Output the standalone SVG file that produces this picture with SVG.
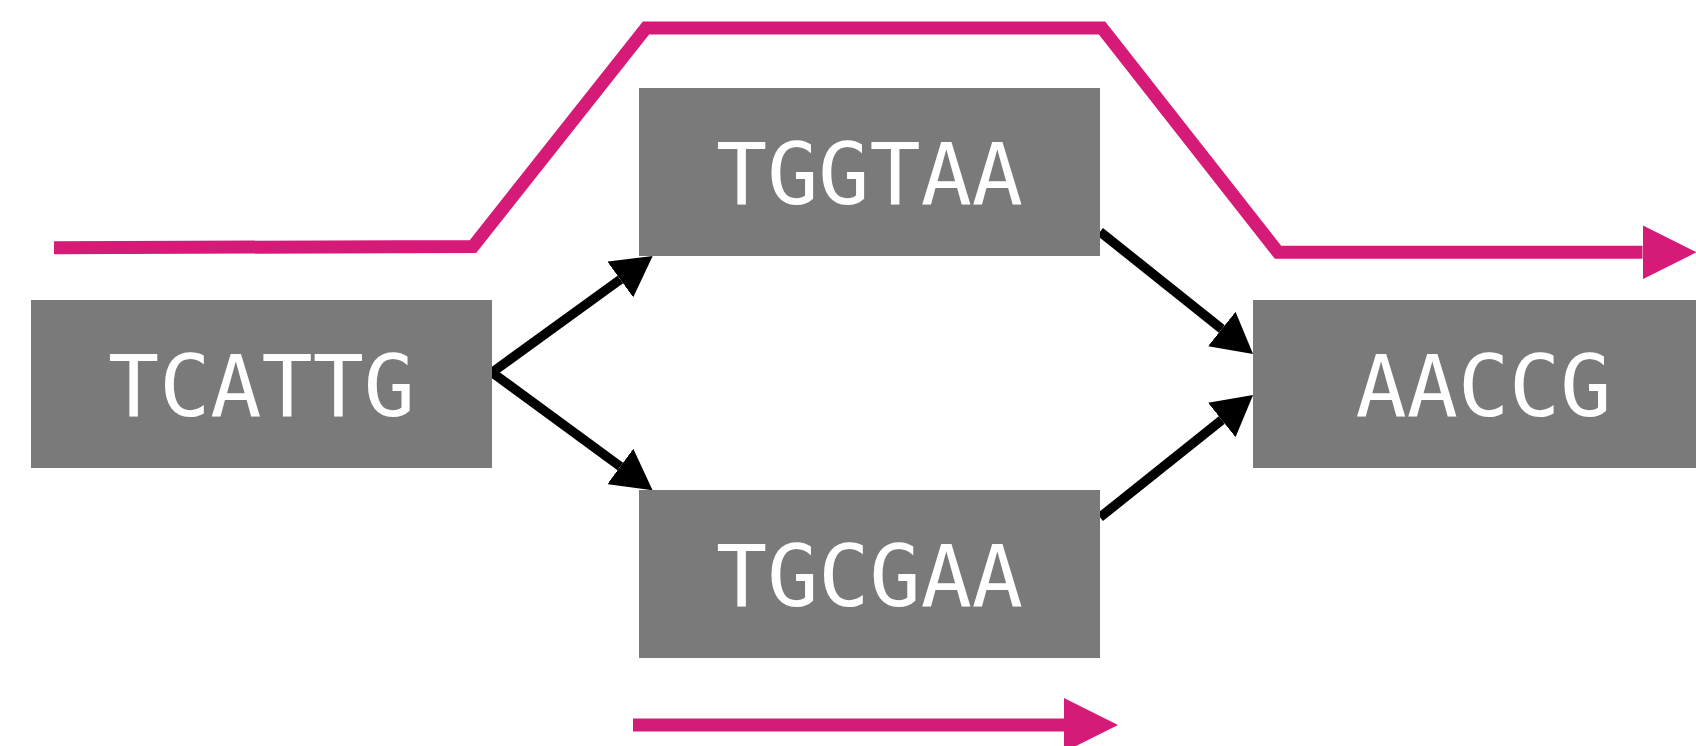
<svg xmlns="http://www.w3.org/2000/svg" width="1696" height="746" viewBox="0 0 1696 746">
  <style>
    .node rect { fill: #7a7a7a; }
    .node text { fill: #ffffff; font-family: "DejaVu Sans Mono", "Liberation Mono", monospace; font-size: 85px; text-anchor: middle; }
    .edge { stroke: #000000; stroke-width: 9.5; fill: none; marker-end: url(#head); }
    .path { stroke: #d51a77; stroke-width: 13; fill: none; stroke-linejoin: miter; marker-end: url(#pinkhead); }
  </style>
  <defs>
    <marker id="head" viewBox="0 -22 40 44" refX="0" refY="0" markerWidth="40" markerHeight="44" markerUnits="userSpaceOnUse" orient="auto">
      <path d="M0,-22 L40,0 L0,22 z" fill="#000000"/>
    </marker>
    <marker id="pinkhead" viewBox="0 -27 54 54" refX="0" refY="0" markerWidth="54" markerHeight="54" markerUnits="userSpaceOnUse" orient="auto">
      <path d="M0,-27 L54,0 L0,27 z" fill="#d51a77"/>
    </marker>
  </defs>

  <!-- connectors between the k-mer nodes, plus the highlighted walks -->
  <g id="connectors">
    <line class="edge" x1="492" y1="372.5" x2="620.3" y2="279.5"/>
    <line class="edge" x1="492" y1="372.5" x2="620.3" y2="466.5"/>
    <line class="edge" x1="1100" y1="231.7" x2="1221.8" y2="329"/>
    <line class="edge" x1="1100" y1="517.3" x2="1221.8" y2="420"/>
    <path class="path" d="M54,247.7 L473,246.5 L646,28 L1102,28 L1278,252.3 L1642.5,252.3"/>
    <path class="path" d="M633,725 L1064,725"/>
  </g>

  <g id="node-TCATTG" class="node">
    <rect x="31" y="300" width="461" height="168"/>
    <text x="261.5" y="415.5">TCATTG</text>
  </g>
  <g id="node-TGGTAA" class="node">
    <rect x="639" y="88" width="461" height="168"/>
    <text x="869.5" y="203.5">TGGTAA</text>
  </g>
  <g id="node-TGCGAA" class="node">
    <rect x="639" y="490" width="461" height="168"/>
    <text x="869.5" y="605.5">TGCGAA</text>
  </g>
  <g id="node-AACCG" class="node">
    <rect x="1253" y="300" width="461" height="168"/>
    <text x="1483.5" y="415.5">AACCG</text>
  </g>
</svg>
